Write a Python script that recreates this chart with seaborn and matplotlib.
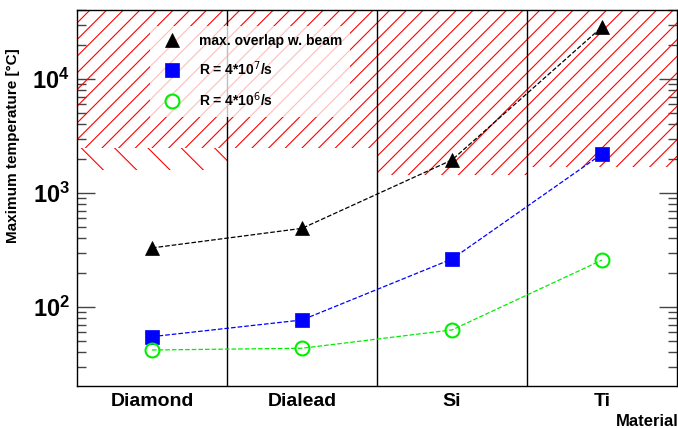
import numpy as np
import seaborn as sns
import matplotlib.pyplot as plt
from matplotlib.lines import Line2D

sns.set_theme(style="ticks")
plt.rcParams['font.family'] = ['Liberation Sans', 'DejaVu Sans']
plt.rcParams['hatch.linewidth'] = 0.8
plt.rcParams['text.color'] = 'black'
plt.rcParams['xtick.color'] = 'black'
plt.rcParams['ytick.color'] = 'black'
plt.rcParams['axes.labelcolor'] = 'black'

materials = ["Diamond", "Dialead", "Si", "Ti"]
overlap_beam = [330, 490, 1950, 28600]
rate_4e7 = [55, 77, 264, 2200]
rate_4e6 = [42, 43.5, 63, 258]
hatch_low = [2500, 2500, 1450, 1700]
back_hatch_low = [1600]
y_top = 1e5

x = np.arange(len(materials)) + 0.5

fig = plt.figure(figsize=(6.78, 4.28), dpi=100)
ax = fig.add_axes([77 / 678, 1 - 386 / 428, 600 / 678, 376 / 428])
ax.set_facecolor("white")

# forbidden (too hot) regions
ax.bar(x, [y_top - b for b in hatch_low], bottom=hatch_low, width=1.0,
       fill=False, hatch="//", edgecolor="red", linewidth=0, zorder=1)
ax.bar(x[:1], [hatch_low[0] - back_hatch_low[0]], bottom=back_hatch_low, width=1.0,
       fill=False, hatch="\\", edgecolor="red", linewidth=0, zorder=1)

for xv in [1, 2, 3]:
    ax.axvline(xv, color="black", lw=1.0, zorder=2)

series = [
    (overlap_beam, "black", "^", "max. overlap w. beam", "black"),
    (rate_4e7, "blue", "s", "R = 4*10$^{7}$/s", "blue"),
    (rate_4e6, "#00ee00", "o", "R = 4*10$^{6}$/s", "none"),
]
handles = []
for vals, col, mk, lab, face in series:
    sns.lineplot(x=x, y=vals, ax=ax, color=col, linestyle="--", lw=0.9,
                 marker=mk, markersize=10 if mk != "s" else 9.5,
                 markerfacecolor=face, markeredgecolor=col,
                 markeredgewidth=1.5 if mk == "o" else 0.5,
                 legend=False, zorder=4)
    handles.append(Line2D([], [], linestyle="none", marker=mk, color=col,
                          markersize=10 if mk != "s" else 9.5,
                          markerfacecolor=face, markeredgecolor=col,
                          markeredgewidth=1.5 if mk == "o" else 0.5, label=lab))

ax.set_yscale("log")
ax.set_ylim(20.3, 40300)
ax.set_xlim(0, 4)

ax.set_xticks(x)
ax.set_xticklabels(materials, fontsize=14, fontweight="bold")
ax.tick_params(axis="x", length=0, pad=5)

ax.set_yticks([100, 1000, 10000])
ax.set_yticklabels([r"$\mathdefault{10^{2}}$", r"$\mathdefault{10^{3}}$",
                    r"$\mathdefault{10^{4}}$"], fontsize=17, fontweight="bold")
ax.tick_params(axis="y", which="major", direction="in", length=13, width=1,
               color="#444444", right=True, pad=5)
ax.tick_params(axis="y", which="minor", direction="in", length=6.5, width=1,
               color="#444444", right=True)

ax.set_ylabel("Maximum temperature [°C]", fontsize=11, fontweight="bold")
ax.yaxis.set_label_coords(-0.095, 0.64)
ax.text(1.003, -0.095, "Material", transform=ax.transAxes, ha="right", va="center",
        fontsize=12, fontweight="bold")

for s in ax.spines.values():
    s.set_color("black")
    s.set_linewidth(1.0)

leg = ax.legend(handles=handles, loc="upper left", bbox_to_anchor=(0.11, 0.977),
                frameon=True, framealpha=0.75, edgecolor="none", facecolor="white",
                fancybox=False, prop={"weight": "bold", "size": 10},
                labelspacing=0.85, handletextpad=0.9, borderpad=0.6)
leg.set_zorder(3)

fig.savefig("out.png", dpi=100)
